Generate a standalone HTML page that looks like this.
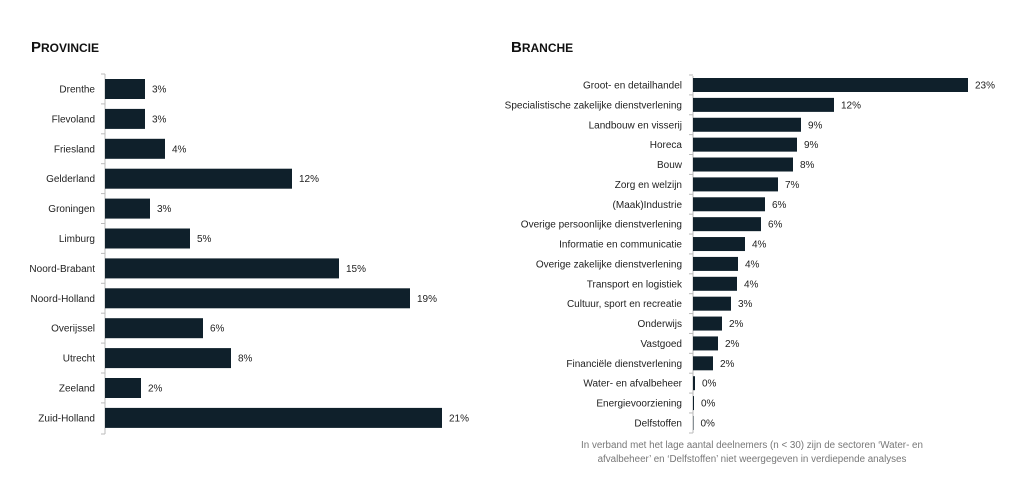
<!DOCTYPE html>
<html><head><meta charset="utf-8"><style>
body{margin:0;background:#fff;width:1024px;height:472px;overflow:hidden;font-family:"Liberation Sans",sans-serif}
svg text{font-family:"Liberation Sans",sans-serif}
</style></head><body>
<svg width="1024" height="472" xmlns="http://www.w3.org/2000/svg">
<text x="31" y="52" font-size="15" font-weight="bold" fill="#111">P<tspan font-size="12">ROVINCIE</tspan></text>
<text x="511" y="52" font-size="15" font-weight="bold" fill="#111">B<tspan font-size="12">RANCHE</tspan></text>
<line x1="105" y1="74" x2="105" y2="434" stroke="#bbb"/>
<line x1="693" y1="76" x2="693" y2="433" stroke="#bbb"/>
</svg>
<script>
var ns="http://www.w3.org/2000/svg",svg=document.querySelector('svg');
function el(t,a,txt){var e=document.createElementNS(ns,t);for(var k in a)e.setAttribute(k,a[k]);if(txt)e.textContent=txt;svg.appendChild(e);}
var C='#0f202b';
var L=[["Drenthe",145,"3%"],["Flevoland",145,"3%"],["Friesland",165,"4%"],["Gelderland",292,"12%"],["Groningen",150,"3%"],["Limburg",190,"5%"],["Noord-Brabant",339,"15%"],["Noord-Holland",410,"19%"],["Overijssel",203,"6%"],["Utrecht",231,"8%"],["Zeeland",141,"2%"],["Zuid-Holland",442,"21%"]];
L.forEach(function(d,i){var c=89+i*29.9;
el('line',{x1:101,y1:c-15,x2:105,y2:c-15,stroke:'#bbb'});
el('rect',{x:105,y:c-10,width:d[1]-105,height:20,fill:C});
el('text',{x:95,y:c+3.5,'text-anchor':'end','font-size':10,fill:'#222'},d[0]);
el('text',{x:d[1]+7,y:c+3.5,'font-size':10,fill:'#222'},d[2]);});
el('line',{x1:101,y1:434,x2:105,y2:434,stroke:'#bbb'});
var R=[["Groot- en detailhandel",968,"23%"],["Specialistische zakelijke dienstverlening",834,"12%"],["Landbouw en visserij",801,"9%"],["Horeca",797,"9%"],["Bouw",793,"8%"],["Zorg en welzijn",778,"7%"],["(Maak)Industrie",765,"6%"],["Overige persoonlijke dienstverlening",761,"6%"],["Informatie en communicatie",745,"4%"],["Overige zakelijke dienstverlening",738,"4%"],["Transport en logistiek",737,"4%"],["Cultuur, sport en recreatie",731,"3%"],["Onderwijs",722,"2%"],["Vastgoed",718,"2%"],["Financiële dienstverlening",713,"2%"],["Water- en afvalbeheer",695,"0%"],["Energievoorziening",694,"0%"],["Delfstoffen",693.5,"0%"]];
R.forEach(function(d,i){var c=85+i*19.88;
el('line',{x1:689,y1:c-10,x2:693,y2:c-10,stroke:'#bbb'});
el('rect',{x:693,y:c-7,width:d[1]-693,height:14,fill:C});
el('text',{x:682,y:c+3.5,'text-anchor':'end','font-size':10,fill:'#222'},d[0]);
el('text',{x:d[1]+7,y:c+3.5,'font-size':10,fill:'#222'},d[2]);});
el('line',{x1:689,y1:433,x2:693,y2:433,stroke:'#bbb'});
el('text',{x:752,y:448,'text-anchor':'middle','font-size':9.8,fill:'#777'},"In verband met het lage aantal deelnemers (n < 30) zijn de sectoren ‘Water- en");
el('text',{x:752,y:462,'text-anchor':'middle','font-size':9.8,fill:'#777'},"afvalbeheer’ en ‘Delfstoffen’ niet weergegeven in verdiepende analyses");
</script>
</body></html>
